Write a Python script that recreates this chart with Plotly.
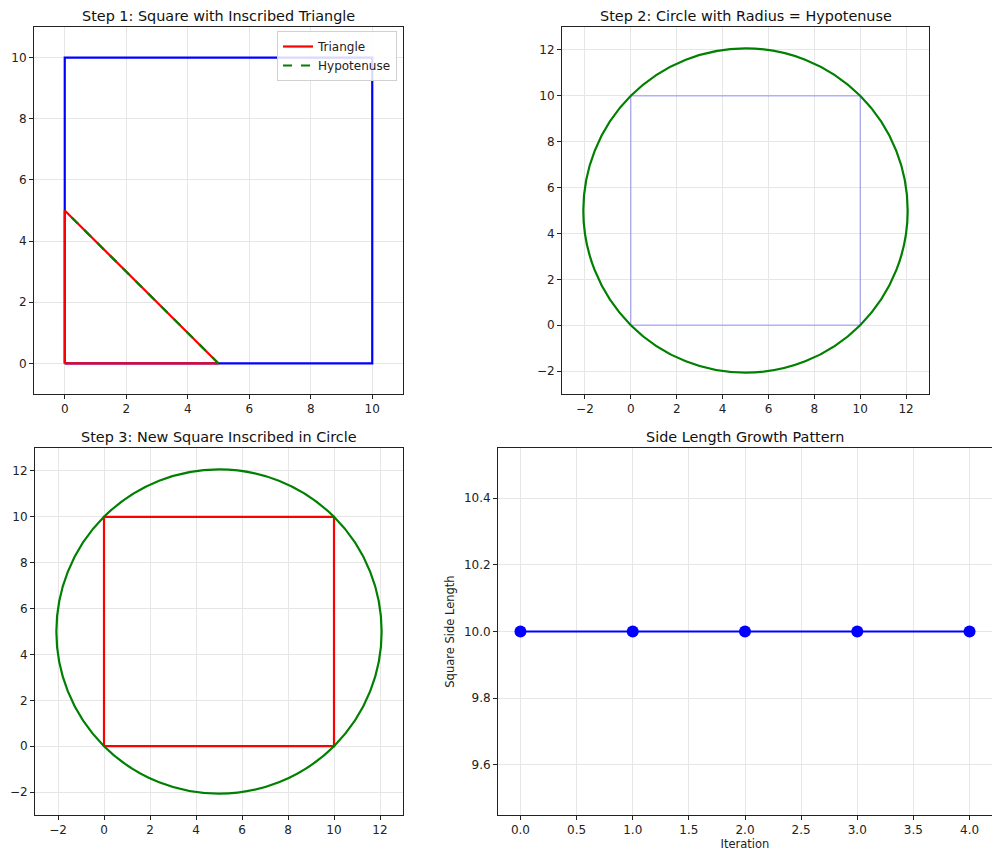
import plotly.graph_objects as go

# ── Data ──────────────────────────────────────────────────────────────────────
SQUARE_X = [0, 10, 10, 0, 0]
SQUARE_Y = [0, 0, 10, 10, 0]

TRIANGLE_X = [0, 5, 0, 0]
TRIANGLE_Y = [0, 0, 5, 0]

HYPOT_X = [5, 0]
HYPOT_Y = [0, 5]

CIRCLE_CENTER = (5, 5)
CIRCLE_RADIUS = 7.0711  # length of hypotenuse, sqrt(50)

NEW_SQUARE_X = [0, 10, 10, 0, 0]
NEW_SQUARE_Y = [0, 0, 10, 10, 0]

ITERATIONS = [0, 1, 2, 3, 4]
SIDE_LENGTHS = [10, 10, 10, 10, 10]

TITLES = [
    "Step 1: Square with Inscribed Triangle",
    "Step 2: Circle with Radius = Hypotenuse",
    "Step 3: New Square Inscribed in Circle",
    "Side Length Growth Pattern",
]

# ── Layout geometry ──────────────────────────────────────────────────────────
# The page body adds an 8px margin, so the figure is 16px smaller than the
# window and every box is given in window pixels minus that offset.
OFF = 8
W, H = 1000 - 2 * OFF, 860 - 2 * OFF
BOXES = {  # left, right, top, bottom in window pixels
    1: (34, 403, 27, 394),
    2: (562, 929, 27, 394),
    3: (35, 403, 448, 815),
    4: (498, 992, 448, 815),
}

FONT = "DejaVu Sans, Liberation Sans, sans-serif"
GRID = "#e6e6e6"


def px_x(p):
    return (p - OFF) / W


def px_y(p):
    return 1 - (p - OFF) / H


fig = go.Figure()

# ── 1. Square with inscribed triangle ────────────────────────────────────────
fig.add_trace(go.Scatter(x=SQUARE_X, y=SQUARE_Y, mode="lines",
                         line=dict(color="blue", width=2.2), showlegend=False,
                         xaxis="x", yaxis="y"))
fig.add_trace(go.Scatter(x=TRIANGLE_X, y=TRIANGLE_Y, mode="lines", name="Triangle",
                         line=dict(color="red", width=2.2),
                         xaxis="x", yaxis="y"))
fig.add_trace(go.Scatter(x=HYPOT_X, y=HYPOT_Y, mode="lines", name="Hypotenuse",
                         line=dict(color="green", width=2.2, dash="dash"),
                         xaxis="x", yaxis="y"))

# ── 2. Circle around original square ─────────────────────────────────────────
fig.add_trace(go.Scatter(x=SQUARE_X, y=SQUARE_Y, mode="lines",
                         line=dict(color="rgba(0,0,255,0.3)", width=1.3), showlegend=False,
                         xaxis="x2", yaxis="y2"))

# ── 3. New square inscribed in circle ────────────────────────────────────────
fig.add_trace(go.Scatter(x=NEW_SQUARE_X, y=NEW_SQUARE_Y, mode="lines",
                         line=dict(color="red", width=2.2), showlegend=False,
                         xaxis="x3", yaxis="y3"))

cx, cy = CIRCLE_CENTER
for xr, yr in (("x2", "y2"), ("x3", "y3")):
    fig.add_shape(type="circle", xref=xr, yref=yr,
                  x0=cx - CIRCLE_RADIUS, x1=cx + CIRCLE_RADIUS,
                  y0=cy - CIRCLE_RADIUS, y1=cy + CIRCLE_RADIUS,
                  line=dict(color="green", width=2.2), layer="above")

# ── 4. Side length growth ────────────────────────────────────────────────────
fig.add_trace(go.Scatter(x=ITERATIONS, y=SIDE_LENGTHS, mode="lines+markers",
                         line=dict(color="blue", width=2.2),
                         marker=dict(color="blue", size=12), showlegend=False,
                         xaxis="x4", yaxis="y4"))

# ── Axes ─────────────────────────────────────────────────────────────────────
axis_common = dict(
    showline=True, linecolor="#222", linewidth=1, mirror=True,
    showgrid=True, gridcolor=GRID, gridwidth=1, zeroline=False,
    ticks="outside", ticklen=4, tickcolor="#222", tickwidth=1,
    tickfont=dict(size=12, color="#222", family=FONT),
)

ranges = {
    1: dict(x=[-1, 11], y=[-1, 11], xt=2, yt=2, fmt=None),
    2: dict(x=[-3, 13], y=[-3, 13], xt=2, yt=2, fmt=None),
    3: dict(x=[-3, 13], y=[-3, 13], xt=2, yt=2, fmt=None),
    4: dict(x=[-0.2, 4.2], y=[9.45, 10.55], xt=0.5, yt=0.2, fmt=".1f"),
}

layout_axes = {}
annotations = []
for i, (l, r, t, b) in BOXES.items():
    sfx = "" if i == 1 else str(i)
    rg = ranges[i]
    xa = dict(axis_common, domain=[px_x(l), px_x(r)], range=rg["x"], dtick=rg["xt"],
              tick0=0, anchor="y" + sfx)
    ya = dict(axis_common, domain=[px_y(b), px_y(t)], range=rg["y"], dtick=rg["yt"],
              tick0=0, anchor="x" + sfx)
    if rg["fmt"]:
        xa["tickformat"] = rg["fmt"]
        ya["tickformat"] = rg["fmt"]
    layout_axes["xaxis" + sfx] = xa
    layout_axes["yaxis" + sfx] = ya
    annotations.append(dict(
        text=TITLES[i - 1], xref="paper", yref="paper",
        x=px_x((l + r) / 2), y=px_y(t - 2), xanchor="center", yanchor="bottom",
        showarrow=False, borderpad=0,
        font=dict(size=14.4, color="#111", family=FONT),
    ))

layout_axes["xaxis4"]["title"] = dict(text="Iteration", standoff=2,
                                      font=dict(size=11.5, color="#222", family=FONT))
layout_axes["yaxis4"]["title"] = dict(text="Square Side Length", standoff=6,
                                      font=dict(size=11.5, color="#222", family=FONT))

fig.update_layout(
    **layout_axes,
    annotations=annotations,
    width=W, height=H,
    margin=dict(l=0, r=0, t=0, b=0),
    paper_bgcolor="white", plot_bgcolor="white",
    font=dict(family=FONT, color="#222"),
    legend=dict(
        x=px_x(397), y=px_y(31), xanchor="right", yanchor="top",
        bgcolor="rgba(255,255,255,0.85)", bordercolor="#d0d0d0", borderwidth=1,
        font=dict(size=12, color="#222", family=FONT),
        tracegroupgap=0, itemwidth=30,
    ),
)

fig.write_html("out.html")
